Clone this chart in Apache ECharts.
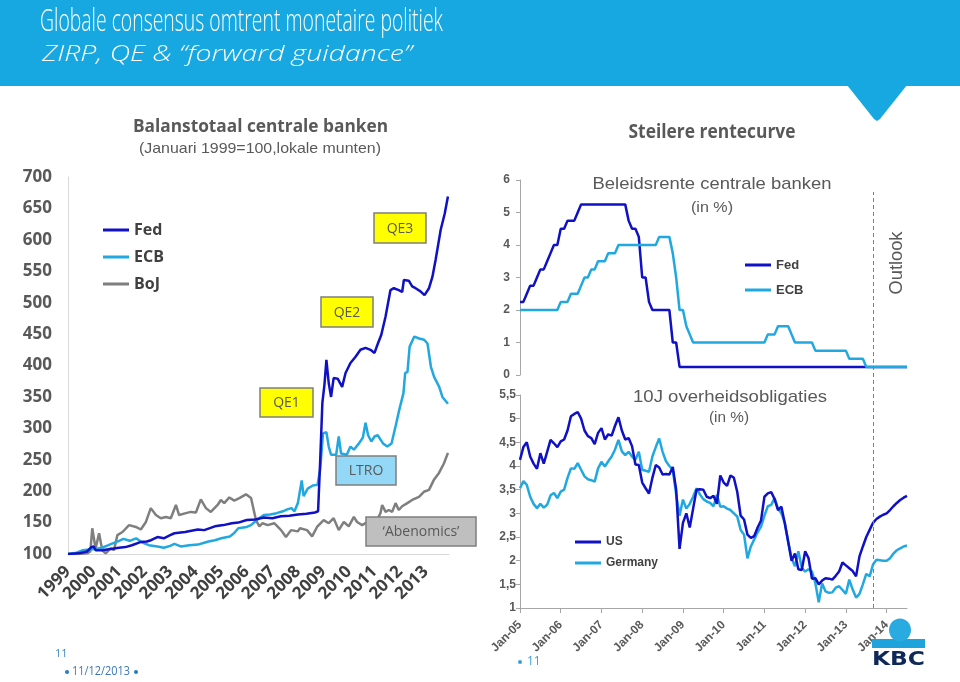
<!DOCTYPE html>
<html>
<head>
<meta charset="utf-8">
<script src="https://cdn.jsdelivr.net/npm/echarts@6/dist/echarts.min.js"></script>
<style>
html,body{margin:0;padding:0;background:#fff;}
#chart{width:960px;height:682px;}
</style>
</head>
<body>
<div id="chart"></div>
<script>
// ---------- DATA ----------
// Left chart: balance sheets (Jan 1999 = 100), x = month index from Jan 1999
const leftYears = ['1999','2000','2001','2002','2003','2004','2005','2006','2007','2008','2009','2010','2011','2012','2013'];
const fedBalance = [[0,100],[5,101],[9,104],[11,111],[12,112],[13,106],[16,106],[20,108],[24,110],[27,111],[30,114],[34,119],[37,120],[39,122],[42,127],[45,125],[48,130],[50,133],[55,135],[58,137],[61,139],[64,138],[69,144],[73,146],[77,149],[80,150],[84,154],[88,155],[92,158],[96,157],[100,160],[104,161],[108,163],[112,164],[116,166],[117.5,168],[118.5,250],[119.5,340],[120.5,370],[121.4,409],[122.5,372],[123.6,350],[124.8,380],[126.7,379],[128.8,366],[130.4,388],[132.7,404],[135.1,414],[137.4,425],[139.8,428],[142.1,425],[144,420],[145.6,435],[147.2,449],[149.2,478],[151.5,520],[153.1,523],[155.4,520],[157,517],[157.8,536],[160.1,535],[161.7,526],[163.3,523],[165.6,518],[167.5,512],[169.6,523],[171.2,541],[172.7,568],[175.1,616],[177,642],[178.5,669]];
const ecbBalance = [[0,100],[4,102],[7,106],[10,107],[13,108],[16,110],[19,114],[21,117],[24,121],[26,124],[29,121],[32,125],[35,118],[38,114],[42,112],[45,110],[48,113],[50,116],[53,112],[57,114],[61,115],[64,118],[66,120],[69,122],[72,125],[76,128],[78,133],[80,141],[84,143],[86,146],[89,155],[92,162],[95,163],[98,165],[101,168],[103,171],[105,173],[106.4,168],[108,181],[109.8,217],[110.7,192],[112.6,204],[115,209],[117.2,210],[118.5,235],[119.8,292],[121.4,294],[122.5,271],[123.6,258],[126,258],[127.2,287],[128.3,260],[131,258],[132.7,271],[134.3,266],[136.7,276],[138.5,285],[139.8,309],[141,289],[142.5,279],[144,287],[145.5,289],[148,276],[150,271],[152,276],[154,305],[155.6,329],[157.6,356],[158.4,388],[159.5,390],[160.5,430],[162.7,446],[165,443],[167.3,441],[168.9,435],[170.5,398],[172,382],[174.4,366],[175.9,350],[178.5,339]];
const bojBalance = [[0,100],[5,100],[9,101],[10.5,104],[11.4,141],[12.5,118],[13,109],[14.6,133],[16.1,106],[17.7,101],[20,109],[21.6,106],[23.2,130],[25.6,135],[28.7,146],[31.9,143],[34.2,139],[36.6,151],[38.9,173],[41.3,162],[43.6,157],[46,159],[48.3,157],[50.7,178],[52.2,162],[55.4,165],[57.7,167],[60.1,166],[62.4,187],[64.8,173],[67.1,167],[70.3,178],[71.8,186],[73.4,181],[75.8,190],[78.1,185],[80.5,189],[83.6,195],[86,189],[88.3,154],[89.9,144],[91.4,149],[93.8,146],[96.9,149],[100.1,138],[102.4,127],[104.8,138],[107.9,136],[109,141],[112.3,138],[114.7,128],[117,143],[120.1,154],[122.5,149],[124.8,157],[127.2,138],[129.6,151],[131.9,144],[134.3,159],[135.8,151],[138.2,146],[140.6,151],[143,148],[145.5,156],[146.8,165],[147.6,178],[149.2,167],[150.7,170],[152.3,167],[153.9,181],[155.4,170],[157,176],[159.4,181],[161.7,186],[164.9,191],[167.2,199],[169.6,202],[171.9,218],[174.3,229],[176.6,244],[178.5,261]];

// Right charts: monthly, Jan-05 .. Jul-14
const monthNames = ['Jan','Feb','Mar','Apr','May','Jun','Jul','Aug','Sep','Oct','Nov','Dec'];
const rateYears = ['05','06','07','08','09','10','11','12','13','14'];
const rateMonths = [];
rateYears.forEach(function(y){ monthNames.forEach(function(m){ rateMonths.push(m + '-' + y); }); });
rateMonths.length = 115;
const outlookStart = 'Sep-13';

const fedRate = [
2.25,2.25,2.5,2.75,2.75,3.0,3.25,3.25,3.5,3.75,4.0,4.0,
4.5,4.5,4.75,4.75,4.75,5.0,5.25,5.25,5.25,5.25,5.25,5.25,
5.25,5.25,5.25,5.25,5.25,5.25,5.25,5.25,4.75,4.5,4.5,4.25,
3.0,3.0,2.25,2.0,2.0,2.0,2.0,2.0,2.0,1.0,1.0,0.25,
0.25,0.25,0.25,0.25,0.25,0.25,0.25,0.25,0.25,0.25,0.25,0.25,
0.25,0.25,0.25,0.25,0.25,0.25,0.25,0.25,0.25,0.25,0.25,0.25,
0.25,0.25,0.25,0.25,0.25,0.25,0.25,0.25,0.25,0.25,0.25,0.25,
0.25,0.25,0.25,0.25,0.25,0.25,0.25,0.25,0.25,0.25,0.25,0.25,
0.25,0.25,0.25,0.25,0.25,0.25,0.25,0.25,0.25,0.25,0.25,0.25,
0.25,0.25,0.25,0.25,0.25,0.25,0.25];
const ecbRate = [
2.0,2.0,2.0,2.0,2.0,2.0,2.0,2.0,2.0,2.0,2.0,2.0,
2.25,2.25,2.25,2.5,2.5,2.5,2.75,3.0,3.0,3.25,3.25,3.5,
3.5,3.5,3.75,3.75,3.75,4.0,4.0,4.0,4.0,4.0,4.0,4.0,
4.0,4.0,4.0,4.0,4.0,4.25,4.25,4.25,4.25,3.75,3.0,2.0,
2.0,1.5,1.25,1.0,1.0,1.0,1.0,1.0,1.0,1.0,1.0,1.0,
1.0,1.0,1.0,1.0,1.0,1.0,1.0,1.0,1.0,1.0,1.0,1.0,
1.0,1.25,1.25,1.25,1.5,1.5,1.5,1.5,1.25,1.0,1.0,1.0,
1.0,1.0,1.0,0.75,0.75,0.75,0.75,0.75,0.75,0.75,0.75,0.75,
0.75,0.5,0.5,0.5,0.5,0.5,0.25,0.25,0.25,0.25,0.25,0.25,
0.25,0.25,0.25,0.25,0.25,0.25,0.25];
const usYield = [
4.13,4.4,4.5,4.2,4.05,3.94,4.27,4.05,4.3,4.55,4.48,4.4,
4.52,4.56,4.75,5.05,5.1,5.14,5.0,4.75,4.63,4.59,4.46,4.7,
4.8,4.56,4.67,4.64,4.85,5.03,4.75,4.56,4.59,4.42,4.03,4.02,
3.65,3.53,3.42,3.75,4.02,3.97,3.82,3.83,3.82,3.98,3.5,2.25,
2.8,3.0,2.7,3.1,3.5,3.51,3.5,3.35,3.32,3.37,3.2,3.8,
3.65,3.58,3.8,3.75,3.45,2.95,2.87,2.55,2.48,2.52,2.7,2.85,
3.35,3.42,3.45,3.3,3.07,3.14,2.79,2.4,2.0,2.15,1.82,1.8,
2.2,2.05,1.62,1.63,1.5,1.58,1.63,1.62,1.6,1.68,1.77,1.96,
1.9,1.84,1.78,1.67,2.09,2.3,2.5,2.65,2.8,2.88,2.93,2.97,
3.0,3.07,3.15,3.22,3.28,3.33,3.37];
const deYield = [
3.53,3.68,3.6,3.35,3.2,3.11,3.2,3.12,3.18,3.38,3.43,3.32,
3.46,3.5,3.75,3.95,3.94,4.06,3.92,3.78,3.72,3.7,3.67,3.95,
4.09,3.99,4.1,4.2,4.35,4.55,4.31,4.23,4.3,4.2,4.13,4.3,
3.92,3.9,3.88,4.2,4.4,4.58,4.3,4.1,4.0,3.92,3.4,2.95,
3.29,3.1,3.2,3.35,3.53,3.4,3.3,3.25,3.22,3.15,3.39,3.14,
3.15,3.1,3.07,3.0,2.93,2.65,2.55,2.05,2.3,2.45,2.6,2.72,
2.95,3.15,3.18,3.32,3.1,3.0,2.8,2.4,2.05,1.88,2.2,1.85,
1.77,1.82,1.77,1.53,1.12,1.52,1.35,1.32,1.33,1.43,1.46,1.38,
1.3,1.6,1.39,1.22,1.3,1.5,1.72,1.67,1.92,2.02,2.01,2.0,
2.0,2.05,2.15,2.22,2.26,2.3,2.32];

// ---------- STYLE ----------
const DARK = '#1010C4', LIGHT = '#22A8E0', GREY = '#7F7F7F', TXT = '#595959';
const SANS = 'Open Sans', ARIAL = 'Liberation Sans';

const mctx = document.createElement('canvas').getContext('2d');
function txt(text, x, y, o) {
  o = o || {};
  const size = o.size || 14, weight = o.weight || 'normal', family = o.family || SANS, fstyle = o.style || 'normal';
  mctx.font = fstyle + ' ' + weight + ' ' + size + 'px "' + family + '"';
  const w = mctx.measureText(text).width;
  const s = o.width ? o.width / w : 1;
  return {
    type: 'text', x: x, y: y, scaleX: s, rotation: o.rotation || 0, z: 120,
    style: { text: text, fill: o.color || TXT, fontSize: size, fontWeight: weight, fontFamily: family, fontStyle: fstyle,
             textAlign: o.align || 'center', textVerticalAlign: 'middle' }
  };
}
function box(x, y, w, h, fill, label) {
  return [
    { type: 'rect', shape: { x: x, y: y, width: w, height: h }, z: 110,
      style: { fill: fill, stroke: '#7F7F7F', lineWidth: 1.5 } },
    txt(label, x + w / 2, y + h / 2 + 1, { size: 14, color: TXT })
  ];
}

const graphics = [
  { type: 'rect', shape: { x: 0, y: 0, width: 960, height: 86 }, style: { fill: '#17A8E1' }, z: 100 },
  { type: 'polygon', shape: { points: [[847, 85], [907, 85], [880, 119], [877, 121], [874, 119]] }, style: { fill: '#17A8E1' }, z: 100 },
  txt('Globale consensus omtrent monetaire politiek', 40, 22, { size: 32, weight: 300, color: '#fff', align: 'left', width: 403 }),
  txt('ZIRP, QE & \u201cforward guidance\u201d', 42, 55, { size: 22, weight: 300, color: '#fff', align: 'left', style: 'italic', width: 370 }),
  txt('Balanstotaal centrale banken', 260.5, 127, { size: 18, weight: 'bold', width: 255 }),
  txt('(Januari 1999=100,lokale munten)', 260, 149, { size: 15, family: ARIAL, width: 242 }),
  txt('Steilere rentecurve', 712, 133, { size: 19, weight: 'bold', width: 167 }),
  txt('Beleidsrente centrale banken', 712, 184, { size: 17, family: ARIAL, width: 239 }),
  txt('(in %)', 712, 208, { size: 15, family: ARIAL, width: 42 }),
  txt('10J overheidsobligaties', 730, 397, { size: 17, family: ARIAL, width: 194 }),
  txt('(in %)', 729, 418, { size: 15, family: ARIAL, width: 40 }),
  txt('Outlook', 897, 263, { size: 19, family: ARIAL, rotation: Math.PI / 2, width: 63 }),
  txt('11', 55, 654, { size: 11, color: '#3D85C6', align: 'left' }),
  { type: 'circle', shape: { cx: 67, cy: 672, r: 2 }, style: { fill: '#1F7DC1' }, z: 120 },
  txt('11/12/2013', 72, 672, { size: 12, color: '#3A78B5', align: 'left', width: 58 }),
  { type: 'circle', shape: { cx: 136, cy: 672, r: 2 }, style: { fill: '#1F7DC1' }, z: 120 },
  { type: 'circle', shape: { cx: 520, cy: 662, r: 2 }, style: { fill: '#3AA0D5' }, z: 120 },
  txt('11', 527, 662, { size: 12, color: '#3AA0D5', align: 'left' }),
  // KBC logo
  { type: 'rect', shape: { x: 872, y: 639, width: 53, height: 9 }, style: { fill: '#1EA3DD' }, z: 125 },
  { type: 'ellipse', shape: { cx: 900, cy: 630, rx: 11, ry: 11.5 }, style: { fill: '#29ABE2' }, z: 126 },
  txt('KBC', 872, 660, { size: 19, weight: 'bold', family: 'DejaVu Sans', color: '#0E2857', align: 'left', width: 53 })
]
.concat(box(374, 213, 52, 30, '#FFFF00', 'QE3'))
.concat(box(321, 297, 52, 30, '#FFFF00', 'QE2'))
.concat(box(260, 388, 53, 29, '#FFFF00', 'QE1'))
.concat(box(336, 456, 60, 29, '#93D9F7', 'LTRO'))
.concat(box(366, 517, 110, 29, '#BFBFBF', '\u2018Abenomics\u2019'));

function yearTick(i) { return i % 12 === 0; }

const chart = echarts.init(document.getElementById('chart'), null, { renderer: 'canvas' });
chart.setOption({
  animation: false,
  backgroundColor: '#ffffff',
  grid: [
    { left: 68, top: 177, width: 381, height: 377 },
    { left: 520, top: 180, width: 387, height: 195 },
    { left: 520, top: 395, width: 387, height: 213 },
    { left: 520, top: 192, width: 387, height: 416 }
  ],
  xAxis: [
    { type: 'value', gridIndex: 0, min: 0, max: 179, interval: 12,
      axisLine: { show: true, lineStyle: { color: '#D9D9D9', width: 1 } }, axisTick: { show: false }, splitLine: { show: false },
      axisLabel: { rotate: 45, margin: 15, fontSize: 17, fontWeight: 'bold', color: '#404040', fontFamily: SANS, showMaxLabel: false,
        formatter: function (v) { return (v % 12 === 0 && leftYears[v / 12]) ? leftYears[v / 12] : ''; } } },
    { type: 'category', gridIndex: 1, data: rateMonths, boundaryGap: false, show: false },
    { type: 'category', gridIndex: 2, data: rateMonths, boundaryGap: false,
      axisLine: { lineStyle: { color: '#A6A6A6' } },
      axisTick: { show: true, interval: yearTick, length: 5, lineStyle: { color: '#A6A6A6' } },
      axisLabel: { interval: yearTick, rotate: 45, margin: 15, fontSize: 12, fontWeight: 'bold', color: TXT, fontFamily: ARIAL },
      splitLine: { show: false } },
    { type: 'category', gridIndex: 3, data: rateMonths, boundaryGap: false, show: false }
  ],
  yAxis: [
    { type: 'value', gridIndex: 0, min: 100, max: 700, interval: 50,
      axisLine: { show: true, lineStyle: { color: '#D9D9D9' } }, axisTick: { show: false }, splitLine: { show: false },
      axisLabel: { margin: 16, fontSize: 17, fontWeight: 'bold', color: TXT, fontFamily: SANS } },
    { type: 'value', gridIndex: 1, min: 0, max: 6, interval: 1,
      axisLine: { show: true, lineStyle: { color: '#A6A6A6' } }, axisTick: { show: true, length: 4, lineStyle: { color: '#A6A6A6' } },
      splitLine: { show: false },
      axisLabel: { margin: 10, fontSize: 12, fontWeight: 'bold', color: TXT, fontFamily: ARIAL } },
    { type: 'value', gridIndex: 2, min: 1, max: 5.5, interval: 0.5,
      axisLine: { show: true, lineStyle: { color: '#A6A6A6' } }, axisTick: { show: true, length: 4, lineStyle: { color: '#A6A6A6' } },
      splitLine: { show: false },
      axisLabel: { margin: 4, fontSize: 12, fontWeight: 'bold', color: TXT, fontFamily: ARIAL,
        formatter: function (v) { return String(v).replace('.', ','); } } },
    { type: 'value', gridIndex: 3, min: 0, max: 1, show: false }
  ],
  legend: [
    { data: ['Fed', 'ECB', 'BoJ'], orient: 'vertical', left: 103, top: 221, padding: 0, itemGap: 9,
      icon: 'rect', itemWidth: 26, itemHeight: 3,
      textStyle: { fontSize: 16, fontWeight: 'bold', color: '#404040', fontFamily: SANS, lineHeight: 18 } },
    { data: ['Fed', 'ECB'], orient: 'vertical', left: 745, top: 257, padding: 0, itemGap: 9,
      icon: 'rect', itemWidth: 26, itemHeight: 3,
      textStyle: { fontSize: 13, fontWeight: 'bold', color: '#404040', fontFamily: ARIAL, lineHeight: 16 } },
    { data: ['US', 'Germany'], orient: 'vertical', left: 575, top: 535, padding: 0, itemGap: 7,
      icon: 'rect', itemWidth: 26, itemHeight: 3,
      textStyle: { fontSize: 12, fontWeight: 'bold', color: '#404040', fontFamily: ARIAL, lineHeight: 14 } }
  ],
  series: [
    { name: 'BoJ', type: 'line', xAxisIndex: 0, yAxisIndex: 0, data: bojBalance, showSymbol: false,
      lineStyle: { width: 2.5, color: GREY }, itemStyle: { color: GREY } },
    { name: 'ECB', type: 'line', xAxisIndex: 0, yAxisIndex: 0, data: ecbBalance, showSymbol: false,
      lineStyle: { width: 2.5, color: LIGHT }, itemStyle: { color: LIGHT } },
    { name: 'Fed', type: 'line', xAxisIndex: 0, yAxisIndex: 0, data: fedBalance, showSymbol: false,
      lineStyle: { width: 2.5, color: DARK }, itemStyle: { color: DARK } },
    { name: 'Fed', type: 'line', xAxisIndex: 1, yAxisIndex: 1, data: fedRate, showSymbol: false,
      lineStyle: { width: 2.5, color: DARK }, itemStyle: { color: DARK } },
    { name: 'ECB', type: 'line', xAxisIndex: 1, yAxisIndex: 1, data: ecbRate, showSymbol: false,
      lineStyle: { width: 2.5, color: LIGHT }, itemStyle: { color: LIGHT } },
    { name: 'Germany', type: 'line', xAxisIndex: 2, yAxisIndex: 2, data: deYield, showSymbol: false,
      lineStyle: { width: 2.5, color: LIGHT }, itemStyle: { color: LIGHT } },
    { name: 'US', type: 'line', xAxisIndex: 2, yAxisIndex: 2, data: usYield, showSymbol: false,
      lineStyle: { width: 2.5, color: DARK }, itemStyle: { color: DARK } },
    { name: 'outlook', type: 'line', xAxisIndex: 3, yAxisIndex: 3, data: [], silent: true,
      markLine: { silent: true, symbol: ['none', 'none'], label: { show: false },
        lineStyle: { color: '#808080', type: [4, 3], width: 1 },
        data: [{ xAxis: outlookStart }] } }
  ],
  graphic: graphics
});
</script>
</body>
</html>
